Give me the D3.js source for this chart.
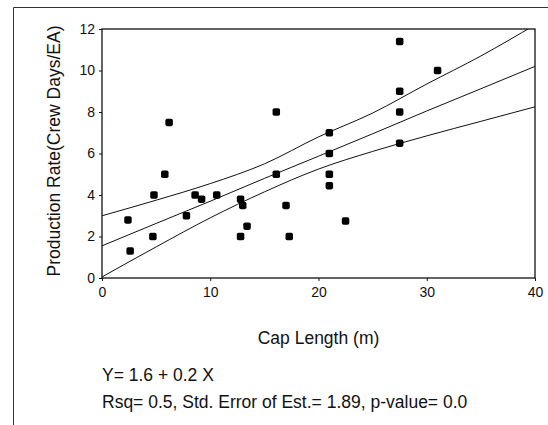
<!DOCTYPE html>
<html>
<head>
<meta charset="utf-8">
<script src="https://cdnjs.cloudflare.com/ajax/libs/d3/7.8.5/d3.min.js"></script>
<style>
body { margin: 0; background: #fff; }
svg text { font-family: "Liberation Sans", Arial, sans-serif; fill: #111; }
.tick line { stroke: #111; }
.tick text { font-size: 14px; }
</style>
</head>
<body>
<div id="chart"></div>
<script>
// scatter data
var capLength = [2.4, 2.6, 4.8, 4.7, 5.8, 6.2, 7.8, 8.6, 9.2, 10.6, 12.8, 13.0, 12.8, 13.4,
                 16.1, 16.1, 17.0, 17.3, 21.0, 21.0, 21.0, 21.0, 22.5, 27.5, 27.5, 27.5, 27.5, 31.0];
var prodRate  = [2.8, 1.3, 4.0, 2.0, 5.0, 7.5, 3.0, 4.0, 3.8, 4.0, 3.8, 3.5, 2.0, 2.5,
                 5.0, 8.0, 3.5, 2.0, 7.0, 6.0, 5.0, 4.45, 2.75, 11.4, 9.0, 8.0, 6.5, 10.0];

// fitted line + 95% band, read at these x values
var bandX     = [0, 5, 10, 15, 20, 25, 30, 35, 40];
var fitMid    = [1.55, 2.63, 3.7, 4.8, 5.87, 6.95, 8.05, 9.12, 10.2];
var fitUpper  = [3.0, 3.75, 4.55, 5.5, 6.8, 7.95, 9.35, 10.7, 12.2];
var fitLower  = [0.05, 1.5, 2.9, 4.15, 5.25, 6.1, 6.85, 7.55, 8.25];

var xTicks = [0, 10, 20, 30, 40];
var yTicks = [0, 2, 4, 6, 8, 10, 12];

var W = 548, H = 425;
var plotL = 102, plotR = 535, plotT = 29, plotB = 278;

var svg = d3.select("#chart").append("svg")
    .attr("width", W).attr("height", H);

// outer frame of the scanned figure
svg.append("path")
    .attr("d", "M13.5," + H + "V7.5H" + W)
    .attr("fill", "none").attr("stroke", "#333").attr("stroke-width", 1);

var x = d3.scaleLinear().domain([0, 40]).range([plotL, plotR]);
var y = d3.scaleLinear().domain([0, 12]).range([plotB, plotT]);

svg.append("clipPath").attr("id", "plotclip")
  .append("rect").attr("x", plotL).attr("y", plotT)
    .attr("width", plotR - plotL).attr("height", plotB - plotT);

var xAxis = svg.append("g")
    .attr("transform", "translate(0," + plotB + ")")
    .call(d3.axisBottom(x).tickValues(xTicks).tickSize(3).tickPadding(6));
xAxis.select(".domain").remove();

var yAxis = svg.append("g")
    .attr("transform", "translate(" + plotL + ",0)")
    .call(d3.axisLeft(y).tickValues(yTicks).tickSize(3).tickPadding(4));
yAxis.select(".domain").remove();

svg.append("rect")
    .attr("x", plotL).attr("y", plotT)
    .attr("width", plotR - plotL).attr("height", plotB - plotT)
    .attr("fill", "none").attr("stroke", "#111").attr("stroke-width", 1.3);

var line = d3.line()
    .x(function(d) { return x(d[0]); })
    .y(function(d) { return y(d[1]); })
    .curve(d3.curveMonotoneX);

var g = svg.append("g").attr("clip-path", "url(#plotclip)");
[fitUpper, fitMid, fitLower].forEach(function(vals) {
  g.append("path")
    .datum(bandX.map(function(v, i) { return [v, vals[i]]; }))
    .attr("d", line)
    .attr("fill", "none").attr("stroke", "#111").attr("stroke-width", 1);
});

var s = 7.5;
svg.selectAll(".pt").data(capLength).enter().append("rect")
    .attr("class", "pt")
    .attr("x", function(d) { return x(d) - s / 2; })
    .attr("y", function(d, i) { return y(prodRate[i]) - s / 2; })
    .attr("width", s).attr("height", s)
    .attr("rx", 1.8)
    .attr("fill", "#000");

svg.append("text")
    .attr("x", (plotL + plotR) / 2).attr("y", 344)
    .attr("text-anchor", "middle").style("font-size", "17.5px")
    .text("Cap Length (m)");

svg.append("text")
    .attr("transform", "translate(60," + 151 + ") rotate(-90)")
    .attr("text-anchor", "middle").style("font-size", "17.5px")
    .text("Production Rate(Crew Days/EA)");

svg.append("text")
    .attr("x", 102).attr("y", 381).style("font-size", "17.5px")
    .text("Y= 1.6 + 0.2 X");

svg.append("text")
    .attr("x", 102).attr("y", 408).style("font-size", "17.5px")
    .text("Rsq= 0.5, Std. Error of Est.= 1.89, p-value= 0.0");
</script>
</body>
</html>
